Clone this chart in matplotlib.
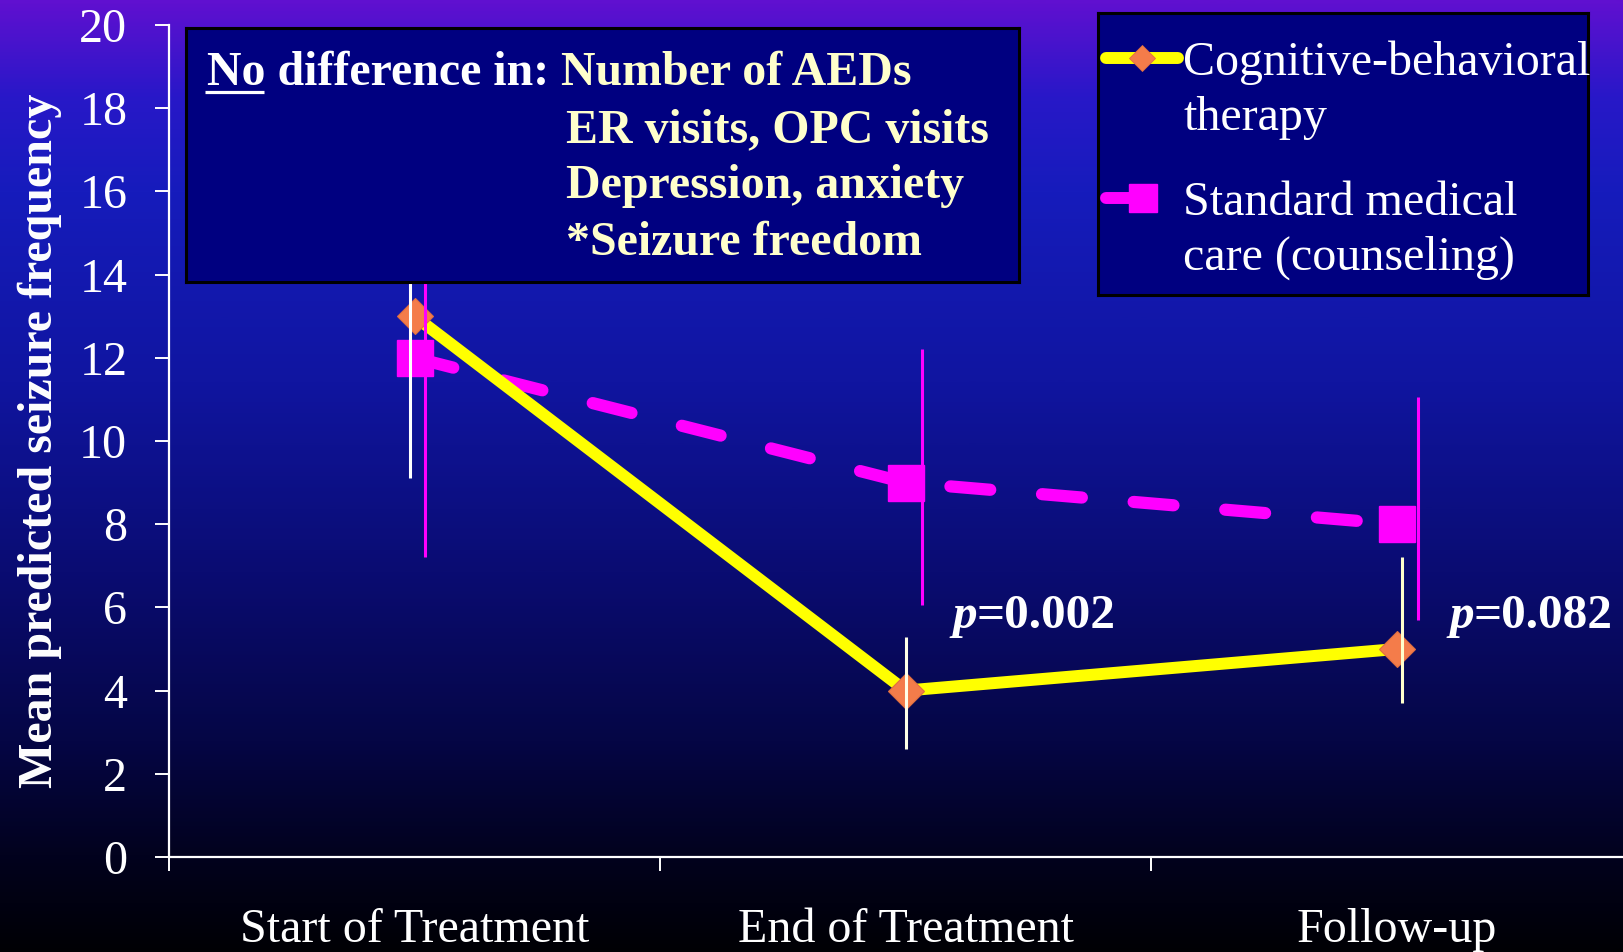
import numpy as np
import matplotlib
matplotlib.use('Agg')
import matplotlib.pyplot as plt
from matplotlib.colors import LinearSegmentedColormap
from matplotlib.transforms import ScaledTranslation

# ---------------- data ----------------
categories = ['Start of Treatment', 'End of Treatment', 'Follow-up']
cbt_mean = [13, 4, 5]
cbt_low = [9.1, 2.6, 3.7]
cbt_high = [16.9, 5.3, 7.2]
smc_mean = [12, 9, 8]
smc_low = [7.2, 6.05, 5.7]
smc_high = [16.8, 12.2, 11.05]
yticks = [0, 2, 4, 6, 8, 10, 12, 14, 16, 18, 20]
cbt_label = ['Cognitive-behavioral', 'therapy']
smc_label = ['Standard medical', 'care (counseling)']
pvalues = ['0.002', '0.082']
pvalue_cats = [1, 2]
box_header = 'No difference in: '
box_items = ['Number of AEDs', 'ER visits, OPC visits', 'Depression, anxiety', '*Seizure freedom']
ylabel = 'Mean predicted seizure frequency'

# ---------------- style ----------------
plt.rcParams['font.family'] = ['Liberation Serif', 'DejaVu Serif']
plt.rcParams['lines.scale_dashes'] = False
W, H = 1623, 952
FS = 34.6
BFS = 34.5
PFS = 35.5
YEL = '#FFFF00'
PINK = '#FF00FF'
ORANGE = '#F47C4A'
NAVY = '#000080'
CREAM = '#FFFFCC'
cbt_err_colors = ['#FFFFFF', '#FFFFE8', '#FFFFCC']
cbt_err_off = [-3.6, 0.7, 4.3]     # points
smc_err_off = [7.9, 12.2, 15.8]    # points
p_dx = [0.095, 0.107]              # horizontal offset of p-value labels (category units)
p_y = 5.5                          # baseline level of p-value labels

fig = plt.figure(figsize=(W / 100, H / 100), dpi=100)

# background gradient
bg = fig.add_axes([0, 0, 1, 1], zorder=-10)
cmap = LinearSegmentedColormap.from_list('bg', [
    (0.0, '#6010D0'), (0.1, '#2818C8'), (0.2, '#161CBC'), (0.4, '#1015A0'),
    (0.6, '#0A0C72'), (0.78, '#050645'), (0.9, '#02021E'), (1.0, '#000004')])
bg.imshow(np.linspace(0, 1, 512).reshape(-1, 1), aspect='auto', cmap=cmap,
          extent=[0, 1, 0, 1], origin='upper')
bg.axis('off')

# main axes
ax = fig.add_axes([169 / W, (H - 857) / H, (1642 - 169) / W, (857 - 25) / H])
ax.set_facecolor('none')
x = np.arange(len(categories)) + 0.5
ax.set_xlim(0, len(categories))
ax.set_ylim(0, 20)
for s in ['top', 'right']:
    ax.spines[s].set_visible(False)
for s in ['left', 'bottom']:
    ax.spines[s].set_color('white')
    ax.spines[s].set_linewidth(1.6)
ax.set_yticks(yticks)
ax.set_yticklabels([str(v) for v in yticks])
ax.set_xticks(np.arange(len(categories) + 1))
ax.set_xticklabels([''] * (len(categories) + 1))
ax.set_xticks(x, minor=True)
ax.set_xticklabels(categories, minor=True)
ax.tick_params(axis='both', which='major', direction='out', length=10, width=1.4,
               color='white', labelcolor='white', labelsize=FS)
ax.tick_params(axis='y', pad=20)
ax.tick_params(axis='x', which='minor', length=0, pad=37, labelsize=FS, labelcolor='white')

# lines
ax.plot(x, smc_mean, color=PINK, lw=8.8, dashes=(28.8, 37.4), dash_capstyle='round', zorder=3)
ax.plot(x, cbt_mean, color=YEL, lw=8.6, solid_capstyle='round', solid_joinstyle='round', zorder=4)
ax.plot(x, smc_mean, ls='none', marker='s', ms=26, color=PINK, zorder=5)
ax.plot(x, cbt_mean, ls='none', marker='D', ms=18.4, mfc=ORANGE, mec='#E06F40', mew=0.8, zorder=6)

# error bars
for i, xi in enumerate(x):
    tr = ax.transData + ScaledTranslation(cbt_err_off[i] / 72, 0, fig.dpi_scale_trans)
    ax.plot([xi, xi], [cbt_low[i], cbt_high[i]], color=cbt_err_colors[i], lw=2.2,
            transform=tr, zorder=7, solid_capstyle='butt')
    tr2 = ax.transData + ScaledTranslation(smc_err_off[i] / 72, 0, fig.dpi_scale_trans)
    ax.plot([xi, xi], [smc_low[i], smc_high[i]], color=PINK, lw=2.2,
            transform=tr2, zorder=7, solid_capstyle='butt')

# p values
for pv, ci, dx in zip(pvalues, pvalue_cats, p_dx):
    tp = ax.text(x[ci] + dx, p_y, 'p', color='white', fontsize=PFS,
                 fontweight='bold', fontstyle='italic', ha='left', va='baseline', zorder=8)
    ax.annotate('=' + pv, xy=(1, 0), xycoords=tp, color='white', fontsize=PFS,
                fontweight='bold', ha='left', va='bottom', zorder=8)

# y label
ax.set_ylabel(ylabel, fontsize=FS, fontweight='bold', color='white', va='center')
ax.yaxis.set_label_coords((40 - 169) / 1473, 0.5)

# text box
bx0, by0, bx1, by1 = 186, 28, 1019, 282
tb = fig.add_axes([bx0 / W, 1 - by1 / H, (bx1 - bx0) / W, (by1 - by0) / H], zorder=5)
tb.set_facecolor(NAVY)
tb.set_xlim(0, bx1 - bx0)
tb.set_ylim(by1 - by0, 0)
tb.set_xticks([])
tb.set_yticks([])
for s in tb.spines.values():
    s.set_color('black')
    s.set_linewidth(2.2)
tb.text(21, 57, box_header, color='white', fontsize=BFS, fontweight='bold', va='baseline', ha='left')
tb.plot([19, 78], [64, 64], color='white', lw=2.3, solid_capstyle='butt')
item_x = [375, 380, 380, 380]
item_y = [57, 114, 170, 227]
for it, ix, iy in zip(box_items, item_x, item_y):
    tb.text(ix, iy, it, color=CREAM, fontsize=BFS, fontweight='bold', va='baseline', ha='left')

# legend box
lx0, ly0, lx1, ly1 = 1098, 13, 1588, 295
lg = fig.add_axes([lx0 / W, 1 - ly1 / H, (lx1 - lx0) / W, (ly1 - ly0) / H], zorder=5)
lg.set_facecolor(NAVY)
lg.set_xlim(0, lx1 - lx0)
lg.set_ylim(ly1 - ly0, 0)
lg.set_xticks([])
lg.set_yticks([])
for s in lg.spines.values():
    s.set_color('black')
    s.set_linewidth(2.2)
lg.plot([8, 80], [45, 45], color=YEL, lw=8.6, solid_capstyle='round')
lg.plot([44], [45], marker='D', ms=13.7, mfc=ORANGE, mec='#E06F40', mew=0.6)
lg.plot([8, 44], [185, 185], color=PINK, lw=8.6, solid_capstyle='round')
lg.plot([45], [185], marker='s', ms=20, color=PINK)
for txt, yy in zip(cbt_label + smc_label, [62, 117, 202, 257]):
    lg.text(85, yy, txt, color='white', fontsize=FS, va='baseline', ha='left')

fig.savefig('out.png', dpi=100)
